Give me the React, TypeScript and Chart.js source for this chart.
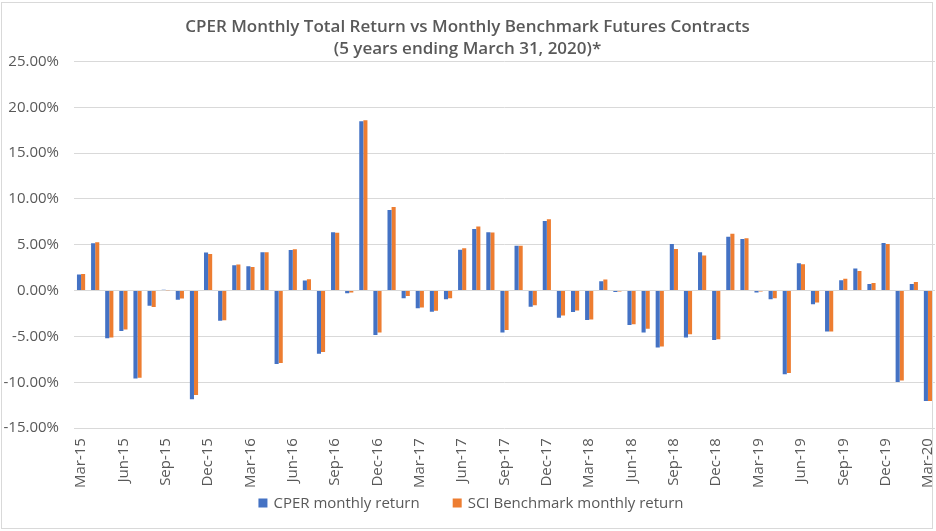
import React, { useEffect, useRef } from 'react';
import { Chart, registerables } from 'chart.js';

Chart.register(...registerables);

const months = [
  'Mar-15', 'Apr-15', 'May-15', 'Jun-15', 'Jul-15', 'Aug-15', 'Sep-15', 'Oct-15', 'Nov-15', 'Dec-15',
  'Jan-16', 'Feb-16', 'Mar-16', 'Apr-16', 'May-16', 'Jun-16', 'Jul-16', 'Aug-16', 'Sep-16', 'Oct-16', 'Nov-16', 'Dec-16',
  'Jan-17', 'Feb-17', 'Mar-17', 'Apr-17', 'May-17', 'Jun-17', 'Jul-17', 'Aug-17', 'Sep-17', 'Oct-17', 'Nov-17', 'Dec-17',
  'Jan-18', 'Feb-18', 'Mar-18', 'Apr-18', 'May-18', 'Jun-18', 'Jul-18', 'Aug-18', 'Sep-18', 'Oct-18', 'Nov-18', 'Dec-18',
  'Jan-19', 'Feb-19', 'Mar-19', 'Apr-19', 'May-19', 'Jun-19', 'Jul-19', 'Aug-19', 'Sep-19', 'Oct-19', 'Nov-19', 'Dec-19',
  'Jan-20', 'Feb-20', 'Mar-20',
];

const cperReturn = [
  1.75, 5.16, -5.2, -4.4, -9.6, -1.64, 0.1, -1.0, -11.85, 4.15,
  -3.3, 2.76, 2.65, 4.18, -8.0, 4.44, 1.09, -6.9, 6.36, -0.3, 18.47, -4.84,
  8.8, -0.84, -1.93, -2.3, -0.95, 4.47, 6.73, 6.36, -4.58, 4.9, -1.75, 7.6,
  -2.95, -2.33, -3.2, 1.02, -0.15, -3.75, -4.58, -6.2, 5.09, -5.13, 4.18, -5.38,
  5.89, 5.64, -0.2, -0.95, -9.13, 2.98, -1.5, -4.47, 1.13, 2.4, 0.73, 5.2,
  -9.96, 0.73, -12.04,
];

const sciReturn = [
  1.8, 5.27, -5.13, -4.25, -9.5, -1.78, 0.05, -0.87, -11.4, 4.0,
  -3.24, 2.84, 2.58, 4.18, -7.9, 4.5, 1.24, -6.7, 6.3, -0.22, 18.6, -4.58,
  9.13, -0.58, -1.85, -2.2, -0.84, 4.62, 7.0, 6.33, -4.3, 4.9, -1.6, 7.78,
  -2.73, -2.18, -3.16, 1.2, -0.1, -3.67, -4.15, -6.1, 4.55, -4.76, 3.82, -5.3,
  6.2, 5.7, -0.1, -0.84, -9.0, 2.87, -1.3, -4.47, 1.3, 2.15, 0.84, 5.09,
  -9.82, 0.95, -12.04,
];

const seriesNames = ['CPER monthly return', 'SCI Benchmark monthly return'];
const seriesColors = ['#4472C4', '#ED7D31'];
const titleLines = [
  'CPER Monthly Total Return vs Monthly Benchmark Futures Contracts',
  '(5 years ending March 31, 2020)*',
];

const FONT = '"Open Sans", "Noto Sans", sans-serif';
const TEXT_COLOR = '#595959';

const legendPlugin = {
  id: 'customLegend',
  afterDraw(chart: any) {
    const ctx = chart.ctx as CanvasRenderingContext2D;
    ctx.save();
    ctx.font = `15px ${FONT}`;
    ctx.textBaseline = 'middle';
    ctx.textAlign = 'left';
    const box = 9;
    const gap = 6;
    const between = 33;
    const widths = seriesNames.map((n) => ctx.measureText(n).width);
    const total = widths.reduce((a, w) => a + box + gap + w, 0) + between * (seriesNames.length - 1);
    let x = 471 - total / 2;
    const y = 503;
    seriesNames.forEach((n, i) => {
      ctx.fillStyle = seriesColors[i];
      ctx.fillRect(x, y - box / 2, box, box);
      ctx.fillStyle = TEXT_COLOR;
      ctx.fillText(n, x + box + gap, y + 1);
      x += box + gap + widths[i] + between;
    });
    ctx.restore();
  },
};

export default function App() {
  const canvasRef = useRef<HTMLCanvasElement | null>(null);

  useEffect(() => {
    if (!canvasRef.current) return;
    const chart = new Chart(canvasRef.current, {
      type: 'bar',
      data: {
        labels: months,
        datasets: [
          {
            label: seriesNames[0],
            data: cperReturn,
            backgroundColor: seriesColors[0],
            categoryPercentage: 0.58,
            barPercentage: 1.0,
          },
          {
            label: seriesNames[1],
            data: sciReturn,
            backgroundColor: seriesColors[1],
            categoryPercentage: 0.58,
            barPercentage: 1.0,
          },
        ],
      },
      options: {
        animation: false,
        responsive: true,
        maintainAspectRatio: false,
        layout: { padding: { left: 0, right: 1, top: 0, bottom: 33 } },
        plugins: {
          legend: { display: false },
          tooltip: { enabled: false },
          title: {
            display: true,
            text: titleLines,
            color: TEXT_COLOR,
            font: { family: FONT, size: 17, weight: '600', lineHeight: 1.25 },
            padding: { top: 17, bottom: 2 },
          },
        },
        scales: {
          x: {
            grid: { display: false, drawTicks: false },
            border: { display: false },
            afterFit: (scale: any) => {
              scale.paddingLeft = 0;
              scale.paddingRight = 0;
            },
            ticks: {
              autoSkip: false,
              minRotation: 90,
              maxRotation: 90,
              padding: 10,
              color: TEXT_COLOR,
              font: { family: FONT, size: 15 },
              callback: (_v: any, i: number) => (i % 3 === 0 ? months[i] : ''),
            },
          },
          y: {
            min: -15,
            max: 25,
            grid: { color: '#d9d9d9', lineWidth: 1, drawTicks: false },
            border: { display: false },
            afterFit: (scale: any) => {
              scale.width = 74;
            },
            ticks: {
              stepSize: 5,
              padding: 15,
              color: TEXT_COLOR,
              font: { family: FONT, size: 15 },
              callback: (v: any) => `${Number(v).toFixed(2)}%`,
            },
          },
        },
      },
      plugins: [legendPlugin],
    });
    return () => chart.destroy();
  }, []);

  return (
    <div style={{ position: 'absolute', left: 0, top: 0, width: 936, height: 531, background: '#fff' }}>
      <canvas ref={canvasRef} />
      <div
        style={{
          position: 'absolute',
          left: 1,
          top: 2,
          width: 930,
          height: 525,
          border: '1px solid #d9d9d9',
          pointerEvents: 'none',
        }}
      />
    </div>
  );
}
